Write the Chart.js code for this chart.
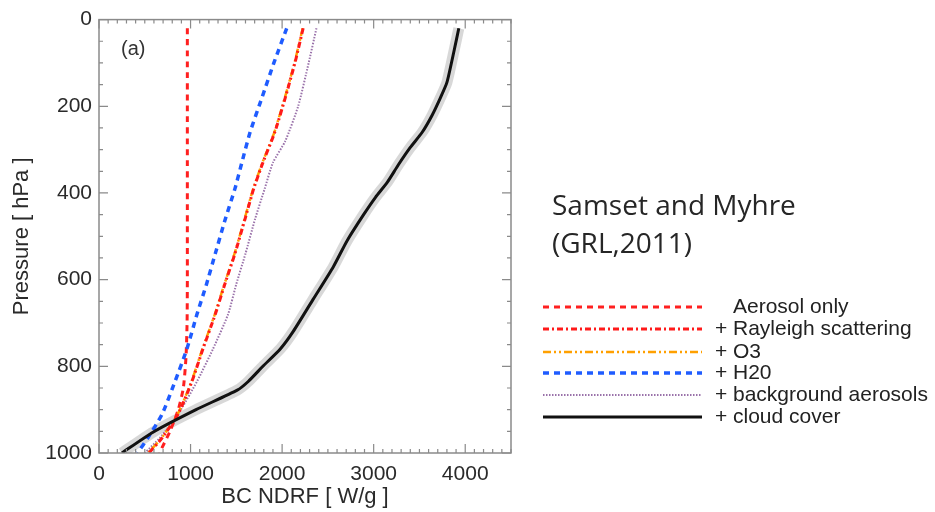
<!DOCTYPE html>
<html>
<head>
<meta charset="utf-8">
<script src="https://cdn.jsdelivr.net/npm/chart.js@4.4.1/dist/chart.umd.min.js"></script>
<style>
  html, body { margin: 0; padding: 0; background: #fff; }
  #wrap { position: relative; width: 935px; height: 512px; overflow: hidden; }
  #c { position: absolute; left: 0; top: 0; }
  .txt { position: absolute; white-space: nowrap; color: #222; }
  .leg { position: absolute; font-family: "Liberation Sans", Arial, sans-serif; font-size: 21px; line-height: 22px; height: 22px; color: #222; white-space: nowrap; }
  .src { position: absolute; left: 552px; top: 185px; font-family: "Open Sans", sans-serif; font-size: 28px; line-height: 38px; color: #262626; }
  svg { position: absolute; left: 0; top: 0; }
</style>
</head>
<body>
<div id="wrap">
  <canvas id="c" width="935" height="512"></canvas>
  <div class="txt" style="left:121px; top:37px; font-family:'Liberation Sans',Arial,sans-serif; font-size:20px; color:#333;">(a)</div>
  <div class="src">Samset and Myhre<br>(GRL,2011)</div>
  <svg id="legsvg" width="935" height="512"></svg>
  <div id="legtext"></div>
</div>
<script>
// ---- Data (pressure in hPa, BC NDRF in W/g) ----
const xTickValues = [0, 1000, 2000, 3000, 4000];
const yTickValues = [0, 200, 400, 600, 800, 1000];

const seriesNames = ["Aerosol only", "+ Rayleigh scattering", "+ O3", "+ H20", "+ background aerosols", "+ cloud cover"];

const pAerosol = [20, 100, 200, 300, 400, 500, 600, 700, 780, 850, 900, 950, 1000];
const xAerosol = [965, 965, 965, 965, 965, 965, 965, 962, 950, 921, 866, 775, 660];

const pRayleigh = [20, 100, 180, 260, 330, 390, 460, 540, 610, 680, 760, 835, 910, 965, 1000];
const xRayleigh = [2230, 2140, 2035, 1920, 1790, 1690, 1595, 1485, 1375, 1270, 1135, 1015, 865, 690, 545];

const pO3 = [20, 100, 180, 260, 330, 390, 460, 540, 610, 680, 760, 835, 910, 965, 1000];
const xO3 = [2225, 2135, 2030, 1915, 1785, 1685, 1590, 1480, 1370, 1265, 1130, 1010, 860, 685, 535];

const pH2O = [20, 100, 180, 260, 330, 390, 460, 540, 610, 680, 760, 835, 910, 965, 1000];
const xH2O = [2050, 1910, 1780, 1650, 1560, 1485, 1380, 1270, 1175, 1070, 960, 830, 690, 535, 420];

const pBackground = [20, 100, 200, 280, 330, 390, 460, 540, 610, 680, 760, 835, 910, 965, 1000];
const xBackground = [2375, 2290, 2175, 2035, 1900, 1810, 1705, 1600, 1500, 1410, 1245, 1070, 865, 665, 500];

const pCloud = [20, 70, 145, 180, 220, 260, 295, 335, 375, 410, 450, 510, 570, 645, 720, 760, 800, 835, 855, 900, 952, 1000];
const xCloud = [3930, 3880, 3800, 3730, 3640, 3530, 3400, 3270, 3150, 3020, 2890, 2710, 2560, 2340, 2120, 1980, 1790, 1630, 1510, 1060, 590, 250];

// ---- Styles ----
const styles = [
  { color: "#ff2020", width: 3, dash: [6, 5] },
  { color: "#ff1a1a", width: 3, dash: [6, 3, 2, 3] },
  { color: "#ffa000", width: 2.5, dash: [8, 3, 2, 3, 2, 3] },
  { color: "#1f5cff", width: 3.5, dash: [6, 5] },
  { color: "#9a72aa", width: 2, dash: [1.5, 1.5] },
  { color: "#111111", width: 3, dash: [] }
];

function pts(xs, ps) { return xs.map((x, i) => ({ x: x, y: ps[i] })); }

const seriesData = [
  pts(xAerosol, pAerosol),
  pts(xRayleigh, pRayleigh),
  pts(xO3, pO3),
  pts(xH2O, pH2O),
  pts(xBackground, pBackground),
  pts(xCloud, pCloud)
];

const drawOrder = [5, 3, 4, 2, 6, 0];
const datasets = seriesData.map((d, i) => ({
  label: seriesNames[i],
  data: d,
  showLine: true,
  borderColor: styles[i].color,
  borderWidth: styles[i].width,
  borderDash: styles[i].dash,
  pointRadius: 0,
  tension: 0.2,
  fill: false,
  order: drawOrder[i]
}));
// grey uncertainty band under the cloud-cover curve
datasets.push({
  label: "band",
  data: pts(xCloud, pCloud),
  showLine: true,
  borderColor: "rgba(200,200,200,0.7)",
  borderWidth: 11,
  pointRadius: 0,
  tension: 0.2,
  fill: false,
  order: 20
});

const frameColor = "#8a8a8a";
const framePlugin = {
  id: "frame",
  afterDatasetsDraw(chart) {
    const { ctx, chartArea: a, scales } = chart;
    const xs = scales.x, ys = scales.y;
    ctx.save();
    ctx.strokeStyle = frameColor;
    ctx.lineWidth = 1.5;
    ctx.setLineDash([]);
    ctx.strokeRect(a.left, a.top, a.right - a.left, a.bottom - a.top);
    ctx.lineWidth = 1.2;
    ctx.beginPath();
    for (let v = 0; v <= 4500; v += 100) {
      const px = xs.getPixelForValue(v);
      const len = (v % 1000 === 0) ? 9 : 4;
      ctx.moveTo(px, a.bottom); ctx.lineTo(px, a.bottom - len);
      ctx.moveTo(px, a.top); ctx.lineTo(px, a.top + len);
    }
    for (let v = 0; v <= 1000; v += 50) {
      const py = ys.getPixelForValue(v);
      const len = (v % 200 === 0) ? 9 : 4;
      ctx.moveTo(a.left, py); ctx.lineTo(a.left + len, py);
      ctx.moveTo(a.right, py); ctx.lineTo(a.right - len, py);
    }
    ctx.stroke();
    ctx.restore();
  }
};

const tickFont = { family: "'Liberation Sans', Arial, sans-serif", size: 21 };
const titleFont = { family: "'Liberation Sans', Arial, sans-serif", size: 22 };

new Chart(document.getElementById("c"), {
  type: "scatter",
  data: { datasets: datasets },
  options: {
    responsive: false,
    animation: false,
    layout: { padding: { top: 13, right: 424, left: 0, bottom: 0 } },
    plugins: { legend: { display: false }, tooltip: { enabled: false } },
    scales: {
      x: {
        type: "linear", min: 0, max: 4500,
        afterBuildTicks: s => { s.ticks = xTickValues.map(v => ({ value: v })); },
        afterFit: s => { s.height = 59; },
        grid: { display: false, drawTicks: false },
        border: { display: false },
        ticks: { font: tickFont, color: "#2a2a2a", padding: 9, maxRotation: 0, callback: v => String(v) },
        title: { display: true, text: "BC NDRF [ W/g ]", font: titleFont, color: "#2a2a2a", padding: { top: 0, bottom: 2 } }
      },
      y: {
        type: "linear", min: 0, max: 1000, reverse: true,
        afterBuildTicks: s => { s.ticks = yTickValues.map(v => ({ value: v })); },
        afterFit: s => { s.width = 99; },
        grid: { display: false, drawTicks: false },
        border: { display: false },
        ticks: { font: tickFont, color: "#2a2a2a", padding: 7, callback: v => String(v) },
        title: { display: true, text: "Pressure [ hPa ]", font: titleFont, color: "#2a2a2a", padding: { top: 9, bottom: 0 } }
      }
    }
  },
  plugins: [framePlugin]
});

// ---- HTML legend ----
const legRows = [307, 329, 352, 373, 395, 417];
const svg = document.getElementById("legsvg");
const legText = document.getElementById("legtext");
seriesNames.forEach((name, i) => {
  const line = document.createElementNS("http://www.w3.org/2000/svg", "line");
  line.setAttribute("x1", 543); line.setAttribute("x2", 702);
  line.setAttribute("y1", legRows[i]); line.setAttribute("y2", legRows[i]);
  line.setAttribute("stroke", styles[i].color);
  line.setAttribute("stroke-width", styles[i].width);
  if (styles[i].dash.length) line.setAttribute("stroke-dasharray", styles[i].dash.join(" "));
  svg.appendChild(line);
  const plus = name.startsWith("+ ");
  if (plus) {
    const p = document.createElement("div");
    p.className = "leg"; p.textContent = "+";
    p.style.left = "715px"; p.style.top = (legRows[i] - 12) + "px";
    legText.appendChild(p);
  }
  const t = document.createElement("div");
  t.className = "leg"; t.textContent = plus ? name.slice(2) : name;
  t.style.left = "733px"; t.style.top = (legRows[i] - 12) + "px";
  legText.appendChild(t);
});
</script>
</body>
</html>
